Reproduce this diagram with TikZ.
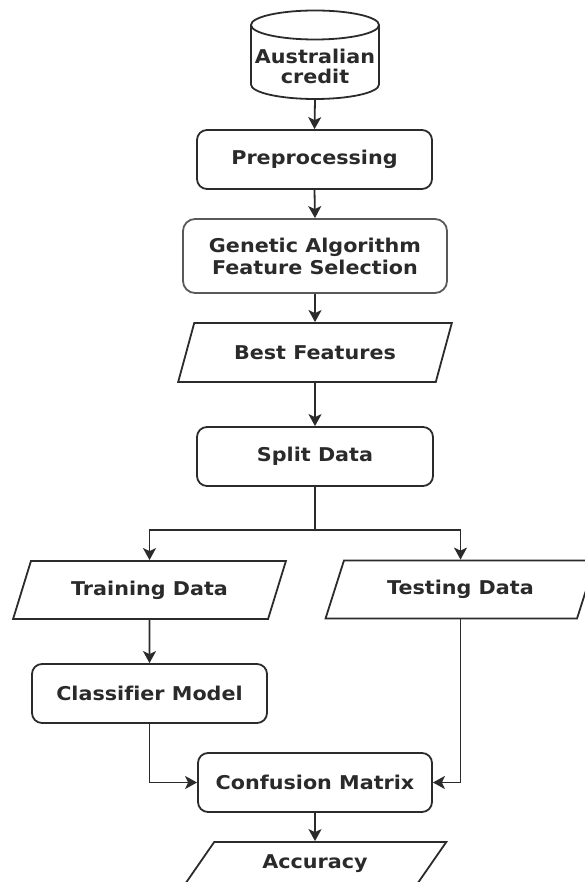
\documentclass[tikz,border=0pt]{standalone}
\usepackage{fontspec}
\setmainfont[FakeStretch=1.09, Ligatures=NoCommon]{DejaVu Sans}
\usetikzlibrary{arrows.meta,shapes.geometric}
\definecolor{linec}{HTML}{2B2B2B}
\definecolor{textc}{HTML}{2A2A2A}
\newcommand{\lblfont}{\fontsize{19pt}{22pt}\selectfont\bfseries}
\tikzset{
  base/.style={line width=1.8pt, draw=linec, text=textc, font=\lblfont, align=center, inner sep=0pt},
  procbox/.style={base, rectangle, rounded corners=10pt, minimum width=235pt, minimum height=59pt},
  iobox/.style={base, trapezium, trapezium stretches=true},
  conn/.style={line width=1.8pt, draw=linec},
  arr/.style={conn, -{Stealth[length=12pt, width=13pt, inset=3pt]}},
}
\begin{document}
\begin{tikzpicture}[x=1pt, y=-1pt]
\useasboundingbox (0,0) rectangle (585,882);
% data source cylinder
\draw[conn, fill=white] (251,25) -- (251,84.5) arc[start angle=180, end angle=360, x radius=64pt, y radius=14.5pt] -- (379,25);
\draw[conn] (315,25) ellipse[x radius=64pt, y radius=14.5pt];
\node[base, draw=none, minimum width=128pt, minimum height=64pt] (src) at (315,66) {Australian\\[-2pt]credit};

\node[procbox] (pre) at (314.5,159.5) {Preprocessing};
\node[procbox, draw=gray!70!black, rounded corners=12pt, minimum width=264pt, minimum height=74pt] (ga) at (315,256) {Genetic Algorithm\\Feature Selection};
\node[iobox, trapezium left angle=52.7, trapezium right angle=127.3, minimum width=274pt, minimum height=59pt] (bf) at (315,352.5) {Best Features};
\node[procbox, minimum width=236pt] (split) at (315,456.5) {Split Data};
\node[iobox, trapezium left angle=57.5, trapezium right angle=122.5, minimum width=273pt, minimum height=58pt] (train) at (149.5,590) {Training Data};
\node[iobox, trapezium left angle=58, trapezium right angle=122, minimum width=270pt, minimum height=58pt] (test) at (460.5,589.5) {Testing Data};
\node[procbox] (clf) at (149.5,693.5) {Classifier Model};
\node[procbox, minimum width=234pt] (cm) at (315,782.5) {Confusion Matrix};
\node[iobox, trapezium left angle=48.4, trapezium right angle=131.6, minimum width=263pt, minimum height=44pt] (acc) at (315,864) {Accuracy};

\coordinate (j) at (315,530);
\draw[arr] (src.south) -- (pre.north);
\draw[arr] (pre.south) -- (ga.north);
\draw[arr] (ga.south) -- (bf.north);
\draw[arr] (bf.south) -- (split.north);
\draw[conn] (split.south) -- (j);
\draw[arr] (j) -| (train.north);
\draw[arr] (j) -| (test.north);
\draw[arr] (train.south) -- (clf.north);
\draw[arr] (clf.south) |- (cm.west);
\draw[arr] (test.south) |- (cm.east);
\draw[arr] (cm.south) -- (acc.north);
\end{tikzpicture}
\end{document}
